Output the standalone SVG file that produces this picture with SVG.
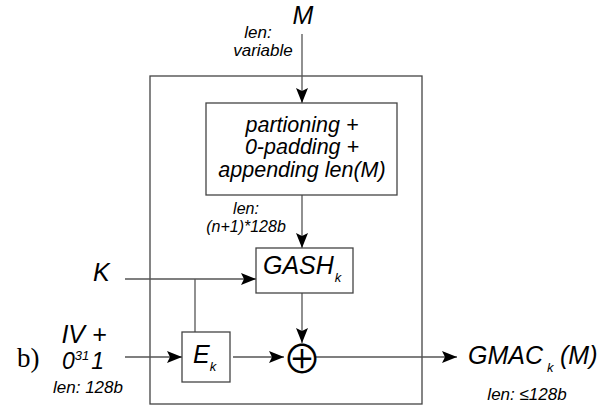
<svg xmlns="http://www.w3.org/2000/svg" width="611" height="406" viewBox="0 0 611 406">
<defs>
<marker id="ah" viewBox="0 0 15 12" markerWidth="15" markerHeight="12" refX="15" refY="6" orient="auto" markerUnits="userSpaceOnUse">
<path d="M0,0 L15,6 L0,12 L3,6 z" fill="#000"/>
</marker>
</defs>
<style>
.box{fill:#fff;stroke:#444;stroke-width:1.3}
.ln{fill:none;stroke:#555;stroke-width:1.3}
.ar{marker-end:url(#ah)}
.t{font-family:"Liberation Sans",Arial,sans-serif;font-style:italic;fill:#000}
.big{font-size:25px}
.mid{font-size:21.5px}
.sm{font-size:17px}
.sm2{font-size:16px}
.sub{font-size:13px}
</style>
<rect width="611" height="406" fill="#fff"/>
<g id="outer"><rect class="box" x="150" y="76" width="272" height="328"/></g>
<g id="connectors">
<line class="ln ar" x1="302" y1="34" x2="302" y2="103"/>
<line class="ln ar" x1="302" y1="195" x2="302" y2="248"/>
<line class="ln ar" x1="125" y1="279" x2="256" y2="279"/>
<line class="ln" x1="195" y1="279" x2="195" y2="332"/>
<line class="ln ar" x1="125" y1="357" x2="182" y2="357"/>
<line class="ln ar" x1="233" y1="357" x2="284" y2="357"/>
<line class="ln ar" x1="302" y1="293" x2="302" y2="343"/>
<line class="ln ar" x1="316" y1="357" x2="457" y2="357"/>
</g>
<g id="M"><text class="t big" x="303" y="24" text-anchor="middle">M</text>
<text class="t sm" x="258" y="38" text-anchor="middle">len:</text>
<text class="t sm" x="263" y="56" text-anchor="middle">variable</text></g>
<g id="partition"><rect class="box" x="206" y="103" width="191" height="92"/>
<text class="t mid" x="302" y="132" text-anchor="middle">partioning +</text>
<text class="t mid" x="302" y="154" text-anchor="middle">0-padding +</text>
<text class="t mid" x="302" y="177" text-anchor="middle">appending len(M)</text></g>
<g id="lenlabel"><text class="t sm2" x="246" y="214" text-anchor="middle">len:</text>
<text class="t sm2" x="246" y="232" text-anchor="middle">(n+1)*128b</text></g>
<g id="K"><text class="t big" x="93" y="281">K</text></g>
<g id="GASH"><rect class="box" x="256" y="248" width="97" height="45"/>
<text class="t big" x="263" y="274">GASH<tspan class="sub" dx="1" dy="8">k</tspan></text></g>
<g id="E"><rect class="box" x="182" y="332" width="48" height="50"/>
<text class="t big" x="193" y="363">E<tspan class="sub" dy="8">k</tspan></text></g>
<g id="xor"><text x="302" y="373" text-anchor="middle" font-family="Noto Sans CJK JP,DejaVu Sans,sans-serif" font-weight="350" font-size="39">⊕</text></g>
<g id="IV"><text class="t big" x="84" y="343" text-anchor="middle">IV +</text>
<text class="t" font-size="23" x="62" y="369">0<tspan class="sub" dy="-9">31</tspan><tspan dx="2" dy="9">1</tspan></text>
<text class="t sm" x="88" y="393" text-anchor="middle">len: 128b</text>
<text x="17" y="367" font-family="Liberation Serif,serif" font-size="27">b)</text></g>
<g id="GMAC"><text class="t big" x="468" y="364">GMAC<tspan class="sub" dx="4" dy="8">k</tspan><tspan x="560" dy="-8">(M)</tspan></text>
<text class="t sm" x="527" y="400" text-anchor="middle">len: ≤128b</text></g>
</svg>
